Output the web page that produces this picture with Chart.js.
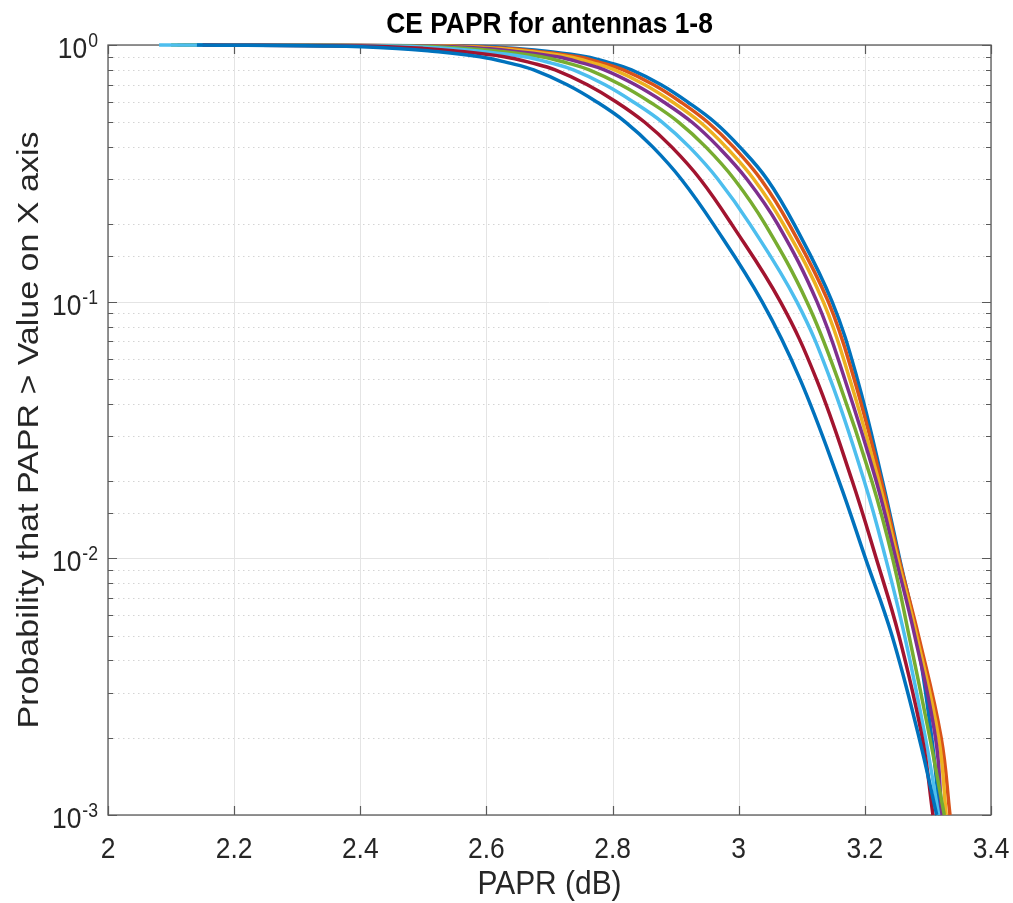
<!DOCTYPE html>
<html>
<head>
<meta charset="utf-8">
<script src="https://cdn.jsdelivr.net/npm/chart.js@4.4.1/dist/chart.umd.min.js"></script>
<style>
  html, body { margin: 0; padding: 0; background: #fff; }
  #wrap { width: 1013px; height: 903px; position: relative; }
</style>
</head>
<body>
<div id="wrap"><canvas id="papr"></canvas></div>
<script>
// CCDF of PAPR, one curve per antenna
const probLevels = [1, 0.99, 0.97, 0.95, 0.9, 0.85, 0.8, 0.7, 0.6, 0.5, 0.4, 0.3, 0.2, 0.1, 0.05, 0.02, 0.01, 0.005, 0.002, 0.001];

const papr1 = [2.12,  2.565, 2.648, 2.687, 2.758, 2.797, 2.830, 2.877, 2.919, 2.962, 3.002, 3.045, 3.088, 3.148, 3.188, 3.228, 3.255, 3.282, 3.306, 3.319];
const papr2 = [2.12,  2.545, 2.633, 2.672, 2.745, 2.784, 2.817, 2.865, 2.908, 2.951, 2.992, 3.035, 3.080, 3.142, 3.183, 3.226, 3.254, 3.285, 3.321, 3.335];
const papr3 = [2.12,  2.525, 2.618, 2.657, 2.730, 2.770, 2.803, 2.851, 2.895, 2.939, 2.980, 3.024, 3.071, 3.134, 3.176, 3.222, 3.252, 3.282, 3.317, 3.329];
const papr4 = [2.11,  2.505, 2.598, 2.637, 2.712, 2.753, 2.787, 2.836, 2.881, 2.926, 2.968, 3.013, 3.062, 3.124, 3.168, 3.218, 3.249, 3.279, 3.312, 3.322];
const papr5 = [2.10,  2.475, 2.568, 2.612, 2.687, 2.729, 2.763, 2.813, 2.859, 2.905, 2.948, 2.993, 3.042, 3.108, 3.157, 3.211, 3.244, 3.270, 3.303, 3.326];
const papr6 = [2.081, 2.445, 2.538, 2.582, 2.660, 2.703, 2.738, 2.788, 2.833, 2.879, 2.922, 2.967, 3.018, 3.092, 3.145, 3.199, 3.233, 3.263, 3.296, 3.317];
const papr7 = [2.150, 2.400, 2.500, 2.547, 2.628, 2.673, 2.709, 2.760, 2.806, 2.851, 2.894, 2.939, 2.989, 3.066, 3.123, 3.180, 3.218, 3.254, 3.291, 3.308];
const papr8 = [2.141, 2.355, 2.458, 2.507, 2.590, 2.637, 2.675, 2.728, 2.775, 2.821, 2.864, 2.909, 2.960, 3.037, 3.097, 3.159, 3.201, 3.243, 3.286, 3.314];

const antennaSeries = [papr1, papr2, papr3, papr4, papr5, papr6, papr7, papr8];
const antennaColors = ['#0072BD', '#D95319', '#EDB120', '#7E2F8E', '#77AC30', '#4DBEEE', '#A2142F', '#0072BD'];

const xTicks = [2, 2.2, 2.4, 2.6, 2.8, 3, 3.2, 3.4];
const xTickLabels = ['2', '2.2', '2.4', '2.6', '2.8', '3', '3.2', '3.4'];
const yDecades = [1, 0.1, 0.01, 0.001];
const yDecadeExps = ['0', '-1', '-2', '-3'];

const TITLE = 'CE PAPR for antennas 1-8';
const X_TITLE = 'PAPR (dB)';
const Y_TITLE = 'Probability that PAPR > Value on X axis';

const FONT = "'Liberation Sans', Helvetica, Arial, sans-serif";
const SX = 0.88;          // figure looks squeezed horizontally
const AXIS_COLOR = '#5a5a5a';

function isDecade(v) {
  const l = Math.log10(v);
  return Math.abs(l - Math.round(l)) < 1e-6;
}

// horizontally squeezed text
function sText(ctx, str, x, y, align) {
  ctx.save();
  ctx.translate(x, y);
  ctx.scale(SX, 1);
  ctx.textAlign = align;
  ctx.fillText(str, 0, 0);
  ctx.restore();
}

/* ── MATLAB style grid, box, ticks and labels ───────── */
const matlabAxes = {
  id: 'matlabAxes',
  beforeDatasetsDraw(chart) {
    const { ctx, chartArea: a, scales: { x, y } } = chart;
    ctx.save();
    ctx.lineWidth = 1;

    // minor dotted grid
    ctx.strokeStyle = '#d4d4d4';
    ctx.setLineDash([1.5, 3.5]);
    y.ticks.forEach(t => {
      if (isDecade(t.value) || t.value < 0.001 || t.value > 1) return;
      const py = Math.round(y.getPixelForValue(t.value)) + 0.5;
      ctx.beginPath(); ctx.moveTo(a.left, py); ctx.lineTo(a.right, py); ctx.stroke();
    });
    ctx.setLineDash([]);

    // major solid grid
    ctx.strokeStyle = '#e4e4e4';
    yDecades.forEach(v => {
      const py = Math.round(y.getPixelForValue(v)) + 0.5;
      ctx.beginPath(); ctx.moveTo(a.left, py); ctx.lineTo(a.right, py); ctx.stroke();
    });
    xTicks.forEach(v => {
      const px = Math.round(x.getPixelForValue(v)) + 0.5;
      ctx.beginPath(); ctx.moveTo(px, a.top); ctx.lineTo(px, a.bottom); ctx.stroke();
    });

    // box
    ctx.strokeStyle = AXIS_COLOR;
    ctx.lineWidth = 1.3;
    ctx.strokeRect(a.left, a.top, a.right - a.left, a.bottom - a.top);

    // inward ticks
    ctx.lineWidth = 1.2;
    y.ticks.forEach(t => {
      if (t.value < 0.001 || t.value > 1) return;
      const py = Math.round(y.getPixelForValue(t.value)) + 0.5;
      const len = isDecade(t.value) ? 9 : 5;
      ctx.beginPath();
      ctx.moveTo(a.left, py); ctx.lineTo(a.left + len, py);
      ctx.moveTo(a.right, py); ctx.lineTo(a.right - len, py);
      ctx.stroke();
    });
    xTicks.forEach(v => {
      const px = Math.round(x.getPixelForValue(v)) + 0.5;
      ctx.beginPath();
      ctx.moveTo(px, a.bottom); ctx.lineTo(px, a.bottom - 9);
      ctx.moveTo(px, a.top); ctx.lineTo(px, a.top + 9);
      ctx.stroke();
    });
    ctx.restore();
  },
  afterDraw(chart) {
    const { ctx, chartArea: a, scales: { x, y } } = chart;
    const cx = (a.left + a.right) / 2;
    const cy = (a.top + a.bottom) / 2;
    ctx.save();
    ctx.textBaseline = 'alphabetic';

    // title
    ctx.fillStyle = '#000';
    ctx.font = `bold 30px ${FONT}`;
    sText(ctx, TITLE, cx, 33, 'center');

    // x tick labels
    ctx.fillStyle = '#262626';
    ctx.font = `30px ${FONT}`;
    xTicks.forEach((v, i) => {
      sText(ctx, xTickLabels[i], x.getPixelForValue(v), 858, 'center');
    });

    // y tick labels 10^n
    yDecades.forEach((v, i) => {
      const py = y.getPixelForValue(v);
      ctx.font = `30px ${FONT}`;
      const wBase = ctx.measureText('10').width * SX;
      ctx.font = `20px ${FONT}`;
      const wExp = ctx.measureText(yDecadeExps[i]).width * SX;
      const left = 98 - wBase - wExp - 1;
      ctx.font = `30px ${FONT}`;
      sText(ctx, '10', left, py + 13, 'left');
      ctx.font = `20px ${FONT}`;
      sText(ctx, yDecadeExps[i], left + wBase + 1, py + 2, 'left');
    });

    // axis titles
    ctx.font = `34px ${FONT}`;
    sText(ctx, X_TITLE, cx, 894, 'center');

    ctx.save();
    ctx.translate(38, cy);
    ctx.rotate(-Math.PI / 2);
    ctx.scale(1, SX);
    ctx.textAlign = 'center';
    ctx.fillText(Y_TITLE, 0, 0);
    ctx.restore();

    ctx.restore();
  }
};

const datasets = antennaSeries.map((xs, i) => ({
  label: 'Antenna ' + (i + 1),
  data: xs.map((xv, k) => ({ x: xv, y: probLevels[k] })),
  borderColor: antennaColors[i],
  backgroundColor: antennaColors[i],
  borderWidth: 3.5,
  pointRadius: 0,
  fill: false,
  tension: 0.4,
  clip: false,
  order: 8 - i,            // later antennas drawn on top, like MATLAB
}));

new Chart(document.getElementById('papr'), {
  type: 'line',
  data: { datasets },
  options: {
    responsive: true,
    maintainAspectRatio: false,
    animation: false,
    layout: { padding: { top: 45, right: 22, left: 0, bottom: 0 } },
    plugins: {
      legend: { display: false },
      tooltip: { enabled: false },
      title: { display: false },
    },
    scales: {
      x: {
        type: 'linear',
        min: 2, max: 3.4,
        ticks: { display: false, stepSize: 0.2 },
        grid: { display: false },
        border: { display: false },
        afterFit: s => { s.height = 88; },
      },
      y: {
        type: 'logarithmic',
        min: 0.001, max: 1,
        ticks: { display: false },
        grid: { display: false },
        border: { display: false },
        afterFit: s => { s.width = 108; },
      },
    },
  },
  plugins: [matlabAxes],
});
</script>
</body>
</html>
